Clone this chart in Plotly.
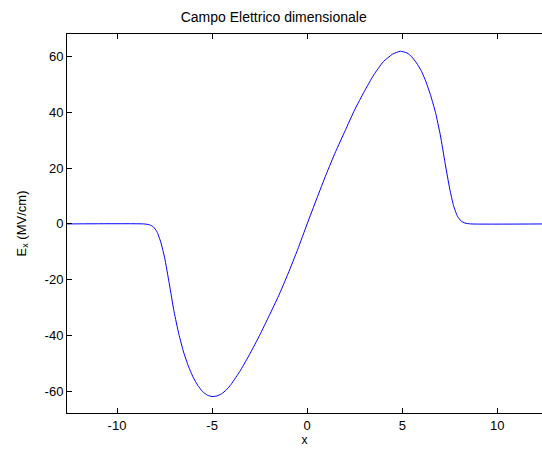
import plotly.graph_objects as go

# Electric field profile E_x along x
x_vals = [-12.63, -8.6, -8.3, -8.1, -7.9, -7.7, -7.5, -7.25, -7.0, -6.75, -6.5, -6.25,
          -6.0, -5.75, -5.5, -5.25, -5.0, -4.75, -4.5, -4.25, -4.0, -3.5, -3.0, -2.5,
          -2.0, -1.5, -1.0, -0.5, 0.0,
          0.5, 1.0, 1.5, 2.0, 2.5, 3.0, 3.5, 4.0, 4.5, 4.9, 5.25, 5.5, 5.75, 6.0,
          6.25, 6.5, 6.75, 7.0, 7.25, 7.5, 7.7, 7.9, 8.1, 8.3, 8.6, 12.63]
ex_vals = [0.0, 0.0, -0.3, -1.0, -2.8, -6.5, -12.0, -21.5, -31.5, -39.5, -46.0, -51.0,
           -55.0, -58.0, -60.2, -61.5, -62.0, -61.8, -61.0, -59.6, -57.6, -52.5, -46.5, -40.0,
           -33.0, -25.8, -17.8, -9.2, 0.0,
           9.0, 17.8, 26.0, 33.5, 41.0, 47.5, 53.5, 58.2, 61.0, 62.0, 61.4, 60.0, 57.8, 55.0,
           51.0, 46.0, 40.0, 32.0, 22.0, 12.5, 6.5, 2.8, 1.0, 0.3, 0.0, 0.0]

x_ticks = [-10, -5, 0, 5, 10]
y_ticks = [-60, -40, -20, 0, 20, 40, 60]

font_family = "Liberation Sans, Arial, sans-serif"

fig = go.Figure()
fig.add_trace(go.Scatter(
    x=x_vals, y=ex_vals, mode="lines",
    line=dict(color="#0000ff", width=1, shape="spline", smoothing=0.5),
    showlegend=False, hoverinfo="skip",
))

fig.update_layout(
    width=542, height=450,
    margin=dict(l=67, r=0, t=34, b=37),
    paper_bgcolor="white", plot_bgcolor="white",
    font=dict(family=font_family, size=13, color="black"),
    title=dict(text="Campo Elettrico dimensionale", x=0.505, xanchor="center",
               y=1 - 17.5 / 450, yanchor="middle",
               font=dict(family=font_family, size=14, color="black")),
    xaxis=dict(
        range=[-12.63, 12.35], tickvals=x_ticks, ticktext=[str(v) for v in x_ticks],
        showgrid=False, zeroline=False,
        showline=True, linecolor="black", linewidth=1, mirror="ticks",
        ticks="inside", ticklen=5, tickcolor="black", tickwidth=1,
        tickfont=dict(size=13),
        title=dict(text="x", font=dict(size=12), standoff=3),
    ),
    yaxis=dict(
        range=[-67.9, 68.2], tickvals=y_ticks, ticktext=[str(v) for v in y_ticks],
        showgrid=False, zeroline=False,
        showline=True, linecolor="black", linewidth=1, mirror=False,
        ticks="inside", ticklen=5, tickcolor="black", tickwidth=1,
        tickfont=dict(size=13),
        title=dict(text="E<sub>x</sub> (MV/cm)", font=dict(size=13), standoff=15),
    ),
)

fig.write_html("out.html")
